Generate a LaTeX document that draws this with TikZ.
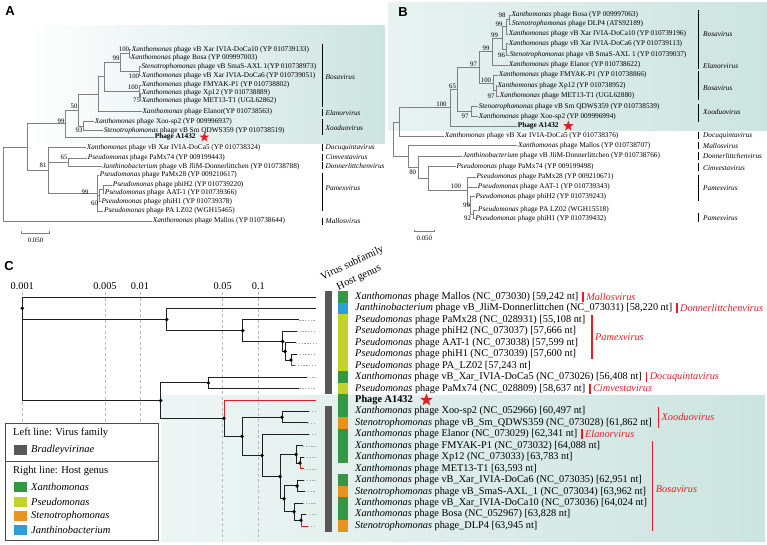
\documentclass[tikz,border=0pt]{standalone}
\usepackage{fontspec}
\setmainfont{Liberation Serif}
\newfontfamily\lsans{Liberation Sans}
\usetikzlibrary{shapes.geometric,calc}
\definecolor{tealsh}{RGB}{204,228,224}
\definecolor{hgreen}{RGB}{52,152,66}
\definecolor{hyellow}{RGB}{196,211,42}
\definecolor{horange}{RGB}{232,146,32}
\definecolor{hblue}{RGB}{45,158,215}
\definecolor{sfgray}{RGB}{88,88,88}
\definecolor{treegray}{RGB}{128,128,128}
\definecolor{bred}{RGB}{232,28,36}
\newcommand\Xan{\textit{Xanthomonas}}
\newcommand\Ste{\textit{Stenotrophomonas}}
\newcommand\Pse{\textit{Pseudomonas}}
\newcommand\Jan{\textit{Janthinobacterium}}
\begin{document}
\begin{tikzpicture}[x=1pt,y=-1pt,
  treeab/.style={draw=treegray, line width=0.7pt},
  leafab/.style={anchor=west, inner sep=0.6pt, font=\fontsize{7.3}{8}\selectfont, text height=5pt, text depth=1.6pt},
  boot/.style={inner sep=0pt, font=\fontsize{6.8}{7}\selectfont},
  genab/.style={anchor=west, inner sep=0pt, font=\fontsize{7.3}{8}\selectfont\itshape},
  genbar/.style={draw=black, line width=1.2pt},
  panlab/.style={inner sep=0pt, font=\lsans\bfseries\fontsize{13}{13}\selectfont},
  redstar/.style={star, star points=5, star point ratio=2.4, fill=bred, draw=none, inner sep=0pt},
  treec/.style={draw=black!88, line width=1pt},
  redc/.style={draw=bred, line width=1pt},
  dotc/.style={draw=gray!70, line width=0.5pt, dash pattern=on 1.4pt off 1.4pt},
  gridc/.style={draw=gray!55, line width=0.5pt, dash pattern=on 3pt off 2.5pt},
  leafc/.style={anchor=west, inner sep=0.5pt, font=\fontsize{10.3}{11}\selectfont, text height=7pt, text depth=2.2pt},
  genc/.style={anchor=west, inner sep=0pt, text=bred, font=\fontsize{10.3}{11}\selectfont\itshape},
  redbar/.style={draw=bred, line width=1.3pt},
  axlab/.style={inner sep=0pt, font=\fontsize{10.3}{11}\selectfont},
  hdr/.style={anchor=south west, rotate=25, inner sep=0pt, font=\fontsize{10.6}{11}\selectfont},
  legtxt/.style={anchor=west, inner sep=0pt, font=\fontsize{10.5}{11}\selectfont},
  legbox/.style={draw=black!70, fill=white, line width=0.6pt}
]
\useasboundingbox (0,0) rectangle (767,545);

% ---------------- shadings
\shade[left color=white, right color=tealsh] (27,26) rectangle (385,144);
\shade[left color=tealsh!45, right color=tealsh] (388,3) rectangle (767,131);
\shade[left color=tealsh!35, right color=tealsh] (161,395) rectangle (765,541);

% ---------------- panel labels
\node[panlab] (labA) at (10,11) {A};
\node[panlab] (labB) at (403,12) {B};
\node[panlab] (labC) at (9,266) {C};

% ================= PANEL A
\node[leafab] (a1) at (131,49.5) {\Xan{} phage vB Xar IVIA-DoCa10 (YP 010739133)};
\node[leafab] (a2) at (130,57.5) {\Xan{} phage Bosa (YP 009997003)};
\node[leafab] (a3) at (140.7,66.7) {\Ste{} phage vB SmaS-AXL 1(YP 010738973)};
\node[leafab] (a4) at (141,75.7) {\Xan{} phage vB Xar IVIA-DoCa6 (YP 010739051)};
\node[leafab] (a5) at (141,85.3) {\Xan{} phage FMYAK-P1 (YP 010738802)};
\node[leafab] (a6) at (141,93.3) {\Xan{} phage Xp12 (YP 010738889)};
\node[leafab] (a7) at (141,100.5) {\Xan{} phage MET13-T1 (UGL62862)};
\node[leafab] (a8) at (141.7,111.7) {\Xan{} phage Elanor(YP 010738563)};
\node[leafab] (a9) at (94,121.7) {\Xan{} phage Xoo-sp2 (YP 009996937)};
\node[leafab] (a10) at (103,130.7) {\Ste{} phage vB Sm QDWS359 (YP 010738519)};
\node[leafab,font=\fontsize{7.3}{8}\selectfont\bfseries] (a11) at (154,137.3) {Phage A1432};
\node[leafab] (a12) at (86,147.7) {\Xan{} phage vB Xar IVIA-DoCa5 (YP 010738324)};
\node[leafab] (a13) at (87,158.3) {\Pse{} phage PaMx74 (YP 009199443)};
\node[leafab] (a14) at (101.7,166.7) {\Jan{} phage vB JliM-Donnerlittchen (YP 010738788)};
\node[leafab] (a15) at (99,175) {\Pse{} phage PaMx28 (YP 009210617)};
\node[leafab] (a16) at (112,185) {\Pse{} phage phiH2 (YP 010739220)};
\node[leafab] (a17) at (104,193.3) {\Pse{} phage AAT-1 (YP 010739366)};
\node[leafab] (a18) at (100.7,201.7) {\Pse{} phage phiH1 (YP 010739378)};
\node[leafab] (a19) at (103.3,211) {\Pse{} phage PA LZ02 (WGH15465)};
\node[leafab] (a20) at (152,221) {\Xan{} phage Mallos (YP 010738644)};
\node[redstar, minimum size=10pt] (sA) at ([xshift=8pt]a11.east) {};

\coordinate (rA) at (3,184);
\coordinate (iA) at (27,147);
\coordinate (nA1) at (129.5,53.5);
\coordinate (nA2) at (120,62.3);
\coordinate (nA3) at (139.5,71.2);
\coordinate (nA4) at (104,76.7);
\coordinate (nA5) at (139,91);
\coordinate (nA6) at (140,96.9);
\coordinate (nA7) at (98,94.2);
\coordinate (nA8) at (78,110.2);
\coordinate (nA9) at (83,126.2);
\coordinate (nA10) at (65,123.7);
\coordinate (nA11) at (68,162.5);
\coordinate (nA12) at (97,193);
\coordinate (nA13) at (103,189.2);
\coordinate (nA14) at (99.5,195.4);
\coordinate (nA15) at (48,170);
\foreach \p/\c in {nA1/a1, nA1/a2, nA3/a3, nA3/a4, nA2/nA1, nA2/nA3, nA6/a6, nA6/a7,
  nA5/a5, nA5/nA6, nA4/nA2, nA4/nA5, nA7/nA4, nA7/a8, nA9/a9, nA9/a10, nA8/nA7, nA8/nA9,
  nA10/nA8, nA10/a11, nA11/a13, nA11/a14, nA13/a16, nA13/a17, nA14/nA13, nA14/a18,
  nA12/a15, nA12/nA14, nA12/a19, nA15/a12, nA15/nA11, nA15/nA12, iA/nA10, iA/nA15,
  rA/iA, rA/a20}
  \draw[treeab] (\p) |- (\c.west);

\foreach \bx/\by/\bt in {124/49/100, 116/58.5/99, 134/76/100, 133/87/100, 136.5/100/75,
  74/106.5/50, 61/121/99, 79/130.5/93, 64/157.5/65, 43/165/81, 85/192.5/99, 94.5/203/60}
  \node[boot] at (\bx,\by) {\bt};

\foreach \yt/\yb/\ym/\nm in {44/107/76.7/Bosavirus, 109.5/116.5/113/Elanorvirus,
  119/135/128/Xooduovirus, 144.5/151/147.5/Docuquintavirus, 154.2/161/157.6/Cimvestavirus,
  162.5/169.5/166/Donnerlittchenvirus, 173/211/187.7/Pamexvirus, 217.5/224.5/221/Mallosvirus}
  {\draw[genbar] (322.5,\yt) -- (322.5,\yb); \node[genab] at (325.5,\ym) {\nm};}

\draw[treeab] (21.7,231.3) -- (21.7,233.3) -- (49.3,233.3) -- (49.3,231.3);
\node[boot] (scA) at (35.5,240) {0.050};

% ================= PANEL B
\node[leafab] (b1) at (510.7,15) {\Xan{} phage Bosa (YP 009997063)};
\node[leafab] (b2) at (511.3,24.3) {\Ste{} phage DLP4 (ATS92189)};
\node[leafab] (b3) at (508,34) {\Xan{} phage vB Xar IVIA-DoCa10 (YP 010739196)};
\node[leafab] (b4) at (508,43.7) {\Xan{} phage vB Xar IVIA-DoCa6 (YP 010739113)};
\node[leafab] (b5) at (509,55) {\Ste{} phage vB SmaS-AXL 1 (YP 010739037)};
\node[leafab] (b6) at (508,65) {\Xan{} phage Elanor (YP 010738622)};
\node[leafab] (b7) at (498,75) {\Xan{} phage FMYAK-P1 (YP 010738866)};
\node[leafab] (b8) at (496.7,85.7) {\Xan{} phage Xp12 (YP 010738952)};
\node[leafab] (b9) at (499,96) {\Xan{} phage MET13-T1 (UGL62880)};
\node[leafab] (b10) at (478,106.7) {\Ste{} phage vB Sm QDWS359 (YP 010738539)};
\node[leafab] (b11) at (478,116.7) {\Xan{} phage Xoo-sp2 (YP 009996994)};
\node[leafab,font=\fontsize{7.3}{8}\selectfont\bfseries] (b12) at (517,126) {Phage A1432};
\node[leafab] (b13) at (444,136) {\Xan{} phage vB Xar IVIA-DoCa5 (YP 010738376)};
\node[leafab] (b14) at (517.3,145.7) {\Xan{} phage Mallos (YP 010738707)};
\node[leafab] (b15) at (462.3,156) {\Jan{} phage vB JliM-Donnerlittchen (YP 010738766)};
\node[leafab] (b16) at (455.7,166.7) {\Pse{} phage PaMx74 (YP 009199498)};
\node[leafab] (b17) at (475.7,177.3) {\Pse{} phage PaMx28 (YP 009210671)};
\node[leafab] (b18) at (477,187) {\Pse{} phage AAT-1 (YP 010739343)};
\node[leafab] (b19) at (474.7,196.7) {\Pse{} phage phiH2 (YP 010739243)};
\node[leafab] (b20) at (477.3,210) {\Pse{} phage PA LZ02 (WGH15518)};
\node[leafab] (b21) at (474.7,218.3) {\Pse{} phage phiH1 (YP 010739432)};
\node[redstar, minimum size=11pt] (sB) at ([xshift=9pt]b12.east) {};

\coordinate (nB1) at (509.5,19.7);
\coordinate (nB2) at (506,26.8);
\coordinate (nB3) at (506.5,49.3);
\coordinate (nB4) at (502,38);
\coordinate (nB5) at (492,51.5);
\coordinate (nB6) at (496,90.8);
\coordinate (nB7) at (493,83);
\coordinate (nB8) at (479,67);
\coordinate (nB9) at (471,111.7);
\coordinate (nB10) at (457.5,89);
\coordinate (nB11) at (450,107.5);
\coordinate (nBa) at (399,122);
\coordinate (nBr) at (393,139);
\coordinate (nBb) at (408,156.4);
\coordinate (nBc) at (418,167);
\coordinate (nBd) at (428,178);
\coordinate (nBe) at (467.5,190);
\coordinate (nBf) at (470.5,205);
\coordinate (nBg) at (473,214);
\foreach \p/\c in {nB1/b1, nB1/b2, nB2/nB1, nB2/b3, nB3/b4, nB3/b5, nB4/nB2, nB4/nB3,
  nB5/nB4, nB5/b6, nB6/b8, nB6/b9, nB7/b7, nB7/nB6, nB8/nB5, nB8/nB7, nB9/b10, nB9/b11,
  nB10/nB8, nB10/nB9, nB11/nB10, nB11/b12, nBa/nB11, nBa/b13, nBr/nBa, nBr/nBb,
  nBb/b14, nBb/nBc, nBc/b15, nBc/nBd, nBd/b16, nBd/nBe, nBe/b17, nBe/b18, nBe/nBf,
  nBf/b19, nBf/nBg, nBg/b20, nBg/b21}
  \draw[treeab] (\p) |- (\c.west);

\foreach \bx/\by/\bt in {502/15/98, 499/24.5/99, 501.5/55.5/96, 494.5/35.5/99, 486/48/99,
  491/96/97, 486/80/100, 473.5/64/97, 465/116.5/97, 452.5/86/65, 441.5/104/100,
  412.7/172.7/80, 456/186/100, 466.5/205.5/99, 467.5/218.5/92}
  \node[boot] at (\bx,\by) {\bt};

\foreach \yt/\yb/\ym/\nm in {10/61.7/34.3/Bosavirus, 62.5/69.5/66/Elanorvirus,
  71/100/88.3/Bosavirus, 104/122/112/Xooduovirus, 132.5/139.5/136/Docuquintavirus,
  142.5/149.5/146/Mallosvirus, 152.5/160/156.5/Donnerlittchenvirus,
  163.5/171.5/167.7/Cimvestavirus, 175/201/188.3/Pamexvirus, 213/222/218.3/Pamexvirus}
  {\draw[genbar] (698.5,\yt) -- (698.5,\yb); \node[genab] at (703,\ym) {\nm};}

\draw[treeab] (414.3,229.7) -- (414.3,231.7) -- (434.3,231.7) -- (434.3,229.7);
\node[boot] (scB) at (424.3,238.5) {0.050};

% ================= PANEL C
% grid and axis
\foreach \gx/\gl [count=\gi] in {22.3/0.001, 105/0.005, 140/0.01, 222.7/0.05, 258.3/0.1}
  {\node[axlab] (ax\gi) at (\gx,286) {\gl};
   \draw[gridc] (\gx,292) -- (\gx,541);}

% header
\node[hdr] (hdr1) at (323.5,282.5) {Virus subfamily};
\node[hdr] (hdr2) at (339.5,292.5) {Host genus};

% columns
\fill[sfgray] (325,291.3) rectangle (331.7,394.3);
\fill[sfgray] (325,405.8) rectangle (331.7,531.7);
\foreach \i/\col in {0/hgreen,1/hblue,2/hyellow,3/hyellow,4/hyellow,5/hyellow,6/hyellow,
  7/hgreen,8/hyellow,9/hgreen,10/hgreen,11/horange,12/hgreen,13/hgreen,14/hgreen,
  16/hgreen,17/horange,18/hgreen,19/hgreen,20/horange}
  \fill[\col] (338.3,{291.275+11.45*\i}) rectangle (348.3,{302.725+11.45*\i});

% leaf labels
\node[leafc] (t0) at (354.5,297) {\Xan{} phage Mallos (NC\_073030) [59,242 nt]};
\node[leafc] (t1) at (354.5,308.45) {\Jan{} phage vB\_JliM-Donnerlittchen (NC\_073031) [58,220 nt]};
\node[leafc] (t2) at (354.5,319.9) {\Pse{} phage PaMx28 (NC\_028931) [55,108 nt]};
\node[leafc] (t3) at (354.5,331.35) {\Pse{} phage phiH2 (NC\_073037) [57,666 nt]};
\node[leafc] (t4) at (354.5,342.8) {\Pse{} phage AAT-1 (NC\_073038) [57,599 nt]};
\node[leafc] (t5) at (354.5,354.25) {\Pse{} phage phiH1 (NC\_073039) [57,600 nt]};
\node[leafc] (t6) at (354.5,365.7) {\Pse{} phage PA\_LZ02 [57,243 nt]};
\node[leafc] (t7) at (354.5,377.15) {\Xan{} phage vB\_Xar\_IVIA-DoCa5 (NC\_073026) [56,408 nt]};
\node[leafc] (t8) at (354.5,388.6) {\Pse{} phage PaMx74 (NC\_028809) [58,637 nt]};
\node[leafc,font=\fontsize{10.3}{11}\selectfont\bfseries] (t9) at (354.5,400.05) {Phage A1432};
\node[leafc] (t10) at (354.5,411.5) {\Xan{} phage Xoo-sp2 (NC\_052966) [60,497 nt]};
\node[leafc] (t11) at (354.5,422.95) {\Ste{} phage vB\_Sm\_QDWS359 (NC\_073028) [61,862 nt]};
\node[leafc] (t12) at (354.5,434.4) {\Xan{} phage Elanor (NC\_073029) [62,341 nt]};
\node[leafc] (t13) at (354.5,445.85) {\Xan{} phage FMYAK-P1 (NC\_073032) [64,088 nt]};
\node[leafc] (t14) at (354.5,457.3) {\Xan{} phage Xp12 (NC\_073033) [63,783 nt]};
\node[leafc] (t15) at (354.5,468.75) {\Xan{} phage MET13-T1 [63,593 nt]};
\node[leafc] (t16) at (354.5,480.2) {\Xan{} phage vB\_Xar\_IVIA-DoCa6 (NC\_073035) [62,951 nt]};
\node[leafc] (t17) at (354.5,491.65) {\Ste{} phage vB\_SmaS-AXL\_1 (NC\_073034) [63,962 nt]};
\node[leafc] (t18) at (354.5,503.1) {\Xan{} phage vB\_Xar\_IVIA-DoCa10 (NC\_073036) [64,024 nt]};
\node[leafc] (t19) at (354.5,514.55) {\Xan{} phage Bosa (NC\_052967) [63,828 nt]};
\node[leafc] (t20) at (354.5,526) {\Ste{} phage\_DLP4 [63,945 nt]};
\node[redstar, minimum size=13pt] (sC) at ([xshift=13pt]t9.east) {};

% red genus labels (single rows)
\foreach \t/\nm in {t0/Mallosvirus, t1/Donnerlittchenvirus, t7/Docuquintavirus,
  t8/Cimvestavirus, t12/Elanorvirus}
  {\coordinate (g\t) at ([xshift=4pt]\t.east);
   \draw[redbar] ([yshift=5pt]g\t) -- ([yshift=-5pt]g\t);
   \node[genc] at ([xshift=3pt]g\t) {\nm};}
% grouped
\path let \p1=(t2.east), \p2=(t3.east), \p3=(t4.east), \p4=(t5.east) in
  coordinate (pamT) at ({max(\x1,\x2,\x3,\x4)+6pt},{\y1+5pt})
  coordinate (pamB) at ({max(\x1,\x2,\x3,\x4)+6pt},{\y4-5pt});
\draw[redbar] (pamT) -- (pamB);
\node[genc] at ($(pamT)!0.5!(pamB)+(3,0)$) {Pamexvirus};
\path let \p1=(t10.east), \p2=(t11.east) in
  coordinate (xooT) at ({max(\x1,\x2)+6pt},{\y1+5pt})
  coordinate (xooB) at ({max(\x1,\x2)+6pt},{\y2-5pt});
\draw[redbar] (xooT) -- (xooB);
\node[genc] at ($(xooT)!0.5!(xooB)+(3,0)$) {Xooduovirus};
\path let \p1=(t13.east), \p2=(t14.east), \p3=(t16.east), \p4=(t17.east),
  \p5=(t18.east), \p6=(t19.east), \p7=(t20.east), \p8=(t15.east) in
  coordinate (bosT) at ({max(\x1,\x2,\x3,\x4,\x5,\x6,\x7,\x8)+5pt},{\y1+5pt})
  coordinate (bosB) at ({max(\x1,\x2,\x3,\x4,\x5,\x6,\x7,\x8)+5pt},{\y7-5pt});
\draw[redbar] (bosT) -- (bosB);
\node[genc] at ($(bosT)!0.5!(bosB)+(3,3)$) {Bosavirus};

% tree C: tips
\coordinate (tipend) at (316,0);
\foreach \n/\tx/\ty in {0/316/297, 1/316/308.45, 2/299.3/319.9, 3/296.7/331.35, 4/296/342.8,
  5/297/354.25, 6/295/365.7, 7/306.7/377.15, 8/299.3/388.6, 9/316/400.05, 10/309/411.5,
  11/308/422.95, 12/309/434.4, 13/303/445.85, 14/304/457.3, 15/304/468.75, 16/304/480.2,
  17/305/491.65, 18/303/503.1, 19/306/514.55, 20/308/526}
  \coordinate (c\n) at (\tx,\ty);
\foreach \n in {2,...,8,10,11,12,13,14,15,16,17,18,19,20}
  \draw[dotc] (c\n) -- (c\n -| tipend);

% internal nodes
\coordinate (N0) at (22.3,308.3);
\coordinate (N1) at (166.7,319.6);
\coordinate (N2) at (242.7,330.6);
\coordinate (N3) at (282.7,341.4);
\coordinate (N4) at (285,351.4);
\coordinate (N5) at (291,360);
\coordinate (N7) at (208.3,382.9);
\coordinate (N8) at (160.7,400.55);
\coordinate (N9) at (224,418.2);
\coordinate (N10) at (242,436.35);
\coordinate (N11) at (282,417.2);
\coordinate (N12) at (262,455.5);
\coordinate (N13) at (280,476.6);
\coordinate (N14) at (296,454.4);
\coordinate (N14b) at (300,463);
\coordinate (N15) at (284,498.8);
\coordinate (N16) at (297,485.9);
\coordinate (N17) at (294,511.7);
\coordinate (N18) at (301,520.3);
\coordinate (Rc) at (22.3,354.4);

\foreach \p/\c in {N0/c0, N0/N1, N1/c1, N1/N2, N2/c2, N2/N3, N3/c3, N3/N4, N4/c4, N4/N5,
  N5/c5, N7/c7, N7/c8, N8/N7, N8/N9, N9/N10, N10/N11, N10/N12, N11/c10, N11/c11,
  N12/c12, N12/N13, N13/N14, N13/N15, N14/c13, N14/N14b, N14b/c14, N15/N16, N15/N17,
  N16/c16, N16/c17, N17/c18, N17/N18, N18/c19, Rc/N0, Rc/N8}
  \draw[treec] (\p) |- (\c);
\foreach \p/\c in {N5/c6, N9/c9, N14b/c15, N18/c20}
  \draw[redc] (\p) |- (\c);
\foreach \p in {N0,N1,N2,N3,N4,N5,N7,N8,N9,N10,N11,N12,N13,N14,N14b,N15,N16,N17,N18}
  \fill[black] (\p) circle (1.9pt);

% legend
\draw[legbox] (5,423) rectangle (158,461);
\draw[legbox] (5,461) rectangle (158,540);
\node[legtxt] (lg1) at (13,433) {Left line: Virus family};
\fill[sfgray] (14,445) rectangle (27,455);
\node[legtxt, font=\fontsize{10.5}{11}\selectfont\itshape] (lg2) at (31,450) {Bradleyvirinae};
\node[legtxt] (lg3) at (13,471) {Right line: Host genus};
\foreach \yy/\col/\nm in {487/hgreen/Xanthomonas, 502/hyellow/Pseudomonas,
  516/horange/Stenotrophomonas, 530/hblue/Janthinobacterium}
  {\fill[\col] (14,\yy-5) rectangle (27,\yy+5);
   \node[legtxt, font=\fontsize{10.5}{11}\selectfont\itshape] at (31,\yy) {\nm};}
\end{tikzpicture}
\end{document}
